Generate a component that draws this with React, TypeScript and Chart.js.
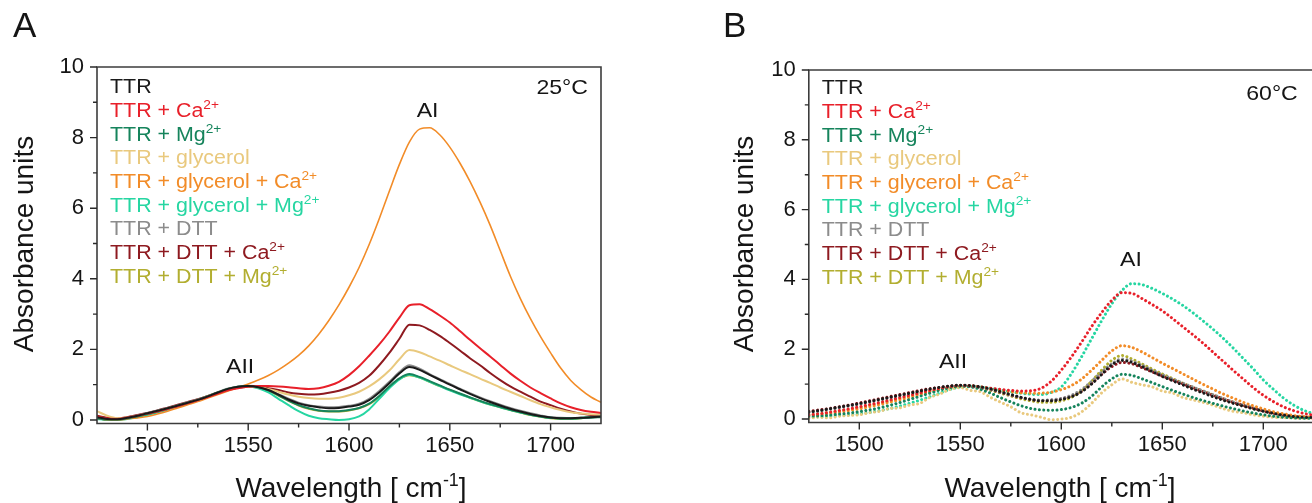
import React, { useEffect, useRef } from "react";
import { Chart, registerables } from "chart.js";

Chart.register(...registerables);

const FONT = '"Liberation Sans", Arial, Helvetica, sans-serif';

// ---------- data ----------
const wavenumbers = [
  1475, 1480, 1485, 1490, 1495, 1500, 1505, 1510, 1515, 1520, 1525, 1530, 1535, 1540, 1545, 1550, 1555,
  1560, 1565, 1570, 1575, 1580, 1585, 1590, 1595, 1600, 1605, 1610, 1615, 1620, 1625, 1630, 1635, 1640,
  1645, 1650, 1655, 1660, 1665, 1670, 1675, 1680, 1685, 1690, 1695, 1700, 1705, 1710, 1715, 1720, 1725,
];

const xMajorTicks = [1500, 1550, 1600, 1650, 1700];
const xMinorTicks = [1525, 1575, 1625, 1675];
const yMajorTicks = [0, 2, 4, 6, 8, 10];
const yMinorTicks = [1, 3, 5, 7, 9];

const seriesLabels: [string, string][] = [
  ["TTR", ""],
  ["TTR + Ca", "2+"],
  ["TTR + Mg", "2+"],
  ["TTR + glycerol", ""],
  ["TTR + glycerol + Ca", "2+"],
  ["TTR + glycerol + Mg", "2+"],
  ["TTR + DTT", ""],
  ["TTR + DTT + Ca", "2+"],
  ["TTR + DTT + Mg", "2+"],
];

const seriesColors = [
  "#1a1a1a",
  "#e8202a",
  "#16845c",
  "#e9c97e",
  "#f28c28",
  "#26d6a2",
  "#8c8c8c",
  "#8e1a20",
  "#b2ae30",
];

// Panel A (25 °C)
const a_TTR = [0.08,0.03,0.02,0.06,0.12,0.19,0.26,0.33,0.41,0.49,0.57,0.67,0.78,0.88,0.94,0.96,0.93,0.85,0.72,0.58,0.47,0.40,0.36,0.33,0.34,0.38,0.43,0.56,0.78,1.04,1.32,1.50,1.42,1.28,1.14,1.00,0.87,0.74,0.62,0.51,0.41,0.32,0.24,0.17,0.11,0.07,0.05,0.05,0.06,0.08,0.10];
const a_Ca = [0.10,0.04,0.03,0.07,0.12,0.18,0.24,0.31,0.39,0.47,0.56,0.65,0.75,0.84,0.90,0.94,0.96,0.96,0.95,0.93,0.90,0.88,0.90,0.97,1.08,1.27,1.52,1.82,2.14,2.50,2.90,3.25,3.28,3.14,2.96,2.76,2.52,2.27,2.03,1.80,1.56,1.32,1.11,0.92,0.76,0.61,0.47,0.36,0.28,0.23,0.20];
const a_Mg = [0.05,0.01,0.01,0.05,0.10,0.17,0.24,0.32,0.40,0.48,0.57,0.67,0.78,0.88,0.94,0.96,0.93,0.84,0.70,0.55,0.42,0.33,0.27,0.25,0.25,0.28,0.34,0.46,0.68,0.95,1.18,1.30,1.22,1.10,0.98,0.86,0.75,0.64,0.54,0.45,0.37,0.29,0.22,0.15,0.10,0.06,0.04,0.04,0.05,0.07,0.08];
const a_Gly = [0.25,0.12,0.05,0.07,0.12,0.18,0.25,0.32,0.40,0.48,0.56,0.66,0.76,0.86,0.92,0.95,0.93,0.88,0.80,0.72,0.66,0.62,0.60,0.60,0.63,0.70,0.80,0.95,1.15,1.40,1.72,1.98,1.92,1.80,1.68,1.55,1.42,1.30,1.17,1.05,0.92,0.80,0.68,0.56,0.45,0.36,0.28,0.22,0.18,0.16,0.15];
const a_GlyCa = [0.05,0.00,0.00,0.03,0.06,0.10,0.17,0.25,0.34,0.43,0.52,0.62,0.72,0.82,0.92,1.02,1.13,1.26,1.42,1.61,1.83,2.10,2.43,2.82,3.26,3.76,4.32,4.97,5.70,6.48,7.24,7.88,8.24,8.28,8.08,7.73,7.28,6.76,6.17,5.52,4.80,4.08,3.44,2.87,2.36,1.90,1.47,1.12,0.86,0.65,0.50];
const a_GlyMg = [0.03,0.00,0.00,0.03,0.08,0.14,0.21,0.29,0.38,0.47,0.56,0.66,0.77,0.87,0.93,0.95,0.90,0.78,0.60,0.42,0.25,0.12,0.05,0.02,0.00,0.02,0.10,0.30,0.60,0.90,1.15,1.28,1.20,1.08,0.96,0.84,0.73,0.63,0.53,0.44,0.36,0.28,0.21,0.15,0.10,0.06,0.04,0.04,0.06,0.08,0.10];
const a_DTT = [0.07,0.03,0.03,0.07,0.13,0.20,0.27,0.34,0.42,0.50,0.58,0.68,0.79,0.89,0.95,0.97,0.94,0.86,0.73,0.60,0.49,0.42,0.38,0.36,0.37,0.40,0.46,0.60,0.82,1.08,1.36,1.55,1.45,1.30,1.16,1.02,0.89,0.76,0.64,0.53,0.43,0.34,0.26,0.19,0.13,0.08,0.06,0.05,0.06,0.07,0.09];
const a_DTTCa = [0.12,0.06,0.04,0.08,0.14,0.20,0.27,0.35,0.43,0.51,0.59,0.68,0.78,0.86,0.91,0.94,0.95,0.90,0.85,0.78,0.74,0.72,0.73,0.77,0.83,0.92,1.05,1.25,1.55,1.90,2.30,2.70,2.68,2.55,2.38,2.18,1.97,1.75,1.55,1.33,1.13,0.95,0.80,0.66,0.52,0.42,0.32,0.24,0.18,0.14,0.12];
const a_DTTMg = [0.06,0.02,0.02,0.06,0.11,0.18,0.25,0.33,0.41,0.49,0.58,0.68,0.78,0.88,0.93,0.95,0.92,0.83,0.69,0.54,0.41,0.32,0.26,0.24,0.24,0.27,0.33,0.45,0.66,0.93,1.16,1.27,1.20,1.08,0.96,0.85,0.74,0.63,0.53,0.44,0.36,0.28,0.21,0.14,0.09,0.05,0.03,0.03,0.05,0.08,0.12];

// Panel B (60 °C)
const b_TTR = [0.20,0.24,0.29,0.34,0.39,0.44,0.50,0.56,0.62,0.68,0.74,0.80,0.86,0.91,0.95,0.97,0.96,0.92,0.86,0.78,0.70,0.62,0.56,0.52,0.52,0.56,0.64,0.78,1.00,1.28,1.55,1.68,1.62,1.50,1.36,1.22,1.10,0.98,0.86,0.75,0.64,0.54,0.45,0.37,0.29,0.22,0.16,0.11,0.07,0.05,0.04];
const b_Ca = [0.12,0.15,0.19,0.24,0.29,0.35,0.41,0.47,0.54,0.61,0.68,0.75,0.82,0.88,0.93,0.96,0.95,0.92,0.88,0.85,0.82,0.80,0.81,0.88,1.08,1.40,1.78,2.20,2.65,3.05,3.40,3.62,3.60,3.45,3.28,3.10,2.88,2.65,2.42,2.18,1.92,1.66,1.40,1.15,0.90,0.68,0.50,0.35,0.24,0.16,0.11];
const b_Mg = [0.08,0.09,0.11,0.14,0.17,0.21,0.26,0.32,0.39,0.47,0.56,0.65,0.74,0.83,0.90,0.94,0.92,0.85,0.74,0.61,0.49,0.38,0.30,0.26,0.25,0.27,0.33,0.45,0.65,0.92,1.15,1.28,1.25,1.15,1.04,0.93,0.82,0.72,0.62,0.53,0.45,0.37,0.30,0.23,0.17,0.12,0.08,0.05,0.03,0.02,0.02];
const b_Gly = [0.02,0.05,0.03,0.08,0.10,0.12,0.18,0.22,0.30,0.32,0.40,0.45,0.62,0.72,0.85,0.90,0.82,0.78,0.62,0.48,0.35,0.18,0.12,0.05,-0.02,0.00,0.05,0.20,0.45,0.75,0.98,1.15,1.05,0.98,0.92,0.80,0.75,0.62,0.55,0.48,0.40,0.30,0.22,0.18,0.12,0.08,0.05,0.04,0.03,0.02,0.02];
const b_GlyCa = [0.10,0.12,0.15,0.19,0.24,0.29,0.35,0.41,0.48,0.55,0.62,0.70,0.78,0.85,0.91,0.95,0.95,0.92,0.87,0.82,0.78,0.75,0.74,0.74,0.77,0.84,0.96,1.14,1.40,1.68,1.95,2.10,2.05,1.92,1.76,1.60,1.45,1.30,1.15,1.00,0.86,0.72,0.60,0.48,0.38,0.29,0.21,0.15,0.10,0.07,0.05];
const b_GlyMg = [0.05,0.06,0.08,0.10,0.12,0.15,0.19,0.24,0.30,0.37,0.45,0.54,0.64,0.75,0.85,0.92,0.94,0.92,0.88,0.83,0.78,0.74,0.71,0.70,0.76,0.92,1.30,1.78,2.30,2.82,3.30,3.68,3.88,3.85,3.74,3.60,3.44,3.26,3.05,2.82,2.58,2.32,2.04,1.74,1.44,1.12,0.85,0.60,0.40,0.25,0.15];
const b_DTT = [0.18,0.22,0.27,0.32,0.37,0.42,0.48,0.54,0.60,0.66,0.72,0.78,0.84,0.89,0.93,0.96,0.95,0.91,0.85,0.77,0.69,0.62,0.57,0.54,0.55,0.59,0.68,0.84,1.08,1.35,1.58,1.72,1.66,1.54,1.40,1.27,1.15,1.03,0.92,0.81,0.70,0.59,0.49,0.40,0.32,0.24,0.17,0.12,0.08,0.06,0.05];
const b_DTTCa = [0.22,0.26,0.30,0.35,0.40,0.46,0.52,0.58,0.64,0.70,0.76,0.82,0.87,0.91,0.94,0.96,0.94,0.90,0.84,0.76,0.68,0.61,0.56,0.53,0.54,0.58,0.66,0.80,1.02,1.28,1.50,1.62,1.58,1.47,1.35,1.23,1.12,1.01,0.90,0.79,0.68,0.58,0.48,0.39,0.31,0.23,0.16,0.11,0.07,0.05,0.04];
const b_DTTMg = [0.12,0.15,0.19,0.23,0.28,0.33,0.39,0.45,0.52,0.59,0.66,0.73,0.80,0.86,0.91,0.94,0.93,0.89,0.82,0.74,0.66,0.58,0.52,0.48,0.48,0.52,0.62,0.80,1.08,1.40,1.68,1.82,1.72,1.58,1.43,1.29,1.16,1.03,0.91,0.80,0.69,0.58,0.48,0.39,0.31,0.23,0.16,0.11,0.07,0.05,0.04];

const panelASeries = [a_TTR, a_Ca, a_Mg, a_Gly, a_GlyCa, a_GlyMg, a_DTT, a_DTTCa, a_DTTMg];
const panelBSeries = [b_TTR, b_Ca, b_Mg, b_Gly, b_GlyCa, b_GlyMg, b_DTT, b_DTTCa, b_DTTMg];

// ---------- layout ----------
type PanelCfg = {
  left: number;
  plotLeft: number;
  plotRight: number;
  plotTop: number;
  plotBottom: number;
  letter: string;
  letterX: number;
  yTitleX: number;
  xTitleCenter: number;
  temp: string;
  tempInset: number;
  tempDy: number;
  legendInset: number;
  legendDy: number;
  ai: [number, number];
  aii: [number, number];
  dotted: boolean;
  series: number[][];
};

const CW = 656;
const CH = 503;

const panelA: PanelCfg = {
  left: 0,
  plotLeft: 97,
  plotRight: 601,
  plotTop: 67,
  plotBottom: 423.5,
  letter: "A",
  letterX: 13,
  yTitleX: 33,
  xTitleCenter: 351,
  temp: "25°C",
  tempInset: 13,
  tempDy: 19,
  legendInset: 13,
  legendDy: 19,
  ai: [1639, 8.81],
  aii: [1546, 1.53],
  dotted: false,
  series: panelASeries,
};

const panelB: PanelCfg = {
  left: 711,
  plotLeft: 97.8,
  plotRight: 602.8,
  plotTop: 70,
  plotBottom: 422.5,
  letter: "B",
  letterX: 12,
  yTitleX: 42,
  xTitleCenter: 349,
  temp: "60°C",
  tempInset: 16,
  tempDy: 22,
  legendInset: 13,
  legendDy: 17,
  ai: [1634.5, 4.61],
  aii: [1546.4, 1.69],
  dotted: true,
  series: panelBSeries,
};

// ---------- text helpers ----------
type Part = { t: string; sup?: boolean };

function drawRich(
  ctx: CanvasRenderingContext2D,
  parts: Part[],
  x: number,
  baseline: number,
  size: number,
  color: string,
  align: "left" | "right" | "center",
  stretch = 1
) {
  const supSize = size * 0.64;
  let w = 0;
  for (const p of parts) {
    ctx.font = `${p.sup ? supSize : size}px ${FONT}`;
    w += ctx.measureText(p.t).width;
  }
  const total = w * stretch;
  const sx = align === "left" ? x : align === "right" ? x - total : x - total / 2;
  ctx.save();
  ctx.translate(sx, baseline);
  ctx.scale(stretch, 1);
  ctx.fillStyle = color;
  ctx.textAlign = "left";
  ctx.textBaseline = "alphabetic";
  let cx = 0;
  for (const p of parts) {
    ctx.font = `${p.sup ? supSize : size}px ${FONT}`;
    ctx.fillText(p.t, cx, p.sup ? -size * 0.4 : 0);
    cx += ctx.measureText(p.t).width;
  }
  ctx.restore();
}

function makeDecor(cfg: PanelCfg) {
  return {
    id: "decor" + cfg.letter,
    afterDatasetsDraw(chart: any) {
      const { ctx, chartArea: a, scales } = chart;
      const xs = scales.x;
      const ys = scales.y;
      ctx.save();
      ctx.strokeStyle = "#3c3c3c";
      ctx.lineWidth = 1.6;
      ctx.beginPath();
      ctx.rect(a.left, a.top, a.right - a.left, a.bottom - a.top);
      ctx.stroke();
      ctx.strokeStyle = "#2a2a2a";
      ctx.lineWidth = 1.4;
      ctx.beginPath();
      for (const v of yMajorTicks) {
        const py = ys.getPixelForValue(v);
        ctx.moveTo(a.left, py);
        ctx.lineTo(a.left - 7, py);
      }
      for (const v of yMinorTicks) {
        const py = ys.getPixelForValue(v);
        ctx.moveTo(a.left, py);
        ctx.lineTo(a.left - 4, py);
      }
      for (const v of xMajorTicks) {
        const px = xs.getPixelForValue(v);
        ctx.moveTo(px, a.bottom);
        ctx.lineTo(px, a.bottom + 7);
      }
      for (const v of xMinorTicks) {
        const px = xs.getPixelForValue(v);
        ctx.moveTo(px, a.bottom);
        ctx.lineTo(px, a.bottom + 4);
      }
      ctx.stroke();
      ctx.restore();
    },
    afterDraw(chart: any) {
      const { ctx, chartArea: a, scales } = chart;
      const xs = scales.x;
      const ys = scales.y;
      const ink = "#151515";
      // panel letter
      drawRich(ctx, [{ t: cfg.letter }], cfg.letterX, 37, 35, ink, "left");
      // y title
      ctx.save();
      ctx.translate(cfg.yTitleX, 244);
      ctx.rotate(-Math.PI / 2);
      ctx.font = `28px ${FONT}`;
      ctx.fillStyle = ink;
      ctx.textAlign = "center";
      ctx.textBaseline = "alphabetic";
      ctx.fillText("Absorbance units", 0, 0);
      ctx.restore();
      // x title
      drawRich(
        ctx,
        [{ t: "Wavelength [ cm" }, { t: "-1", sup: true }, { t: "]" }],
        cfg.xTitleCenter,
        497,
        28,
        ink,
        "center"
      );
      // legend
      seriesLabels.forEach(([base, sup], i) => {
        const cy = a.top + cfg.legendDy + i * 23.7;
        const parts: Part[] = [{ t: base }];
        if (sup) parts.push({ t: sup, sup: true });
        drawRich(ctx, parts, a.left + cfg.legendInset, cy + 7.1, 20, seriesColors[i], "left", 1.07);
      });
      // temperature
      drawRich(ctx, [{ t: cfg.temp }], a.right - cfg.tempInset, a.top + cfg.tempDy + 7.5, 21, ink, "right", 1.1);
      // band labels
      drawRich(ctx, [{ t: "AI" }], xs.getPixelForValue(cfg.ai[0]), ys.getPixelForValue(cfg.ai[1]) + 7.5, 21, ink, "center", 1.1);
      drawRich(ctx, [{ t: "AII" }], xs.getPixelForValue(cfg.aii[0]), ys.getPixelForValue(cfg.aii[1]) + 7.5, 21, ink, "center", 1.1);
    },
  };
}

function Panel({ cfg }: { cfg: PanelCfg }) {
  const ref = useRef<HTMLCanvasElement | null>(null);
  useEffect(() => {
    if (!ref.current) return;
    const datasets = cfg.series.map((vals, i) => ({
      label: seriesLabels[i][0] + seriesLabels[i][1],
      data: wavenumbers.map((w, k) => ({ x: w, y: vals[k] })),
      borderColor: seriesColors[i],
      backgroundColor: seriesColors[i],
      borderWidth: cfg.dotted ? 3 : i === 4 ? 1.6 : 2,
      borderDash: cfg.dotted ? [0.01, 4.4] : [],
      borderCapStyle: cfg.dotted ? ("round" as const) : ("butt" as const),
      cubicInterpolationMode: "monotone" as const,
      pointRadius: 0,
      fill: false,
    }));
    const chart = new Chart(ref.current, {
      type: "line",
      data: { datasets },
      options: {
        animation: false,
        responsive: false,
        devicePixelRatio: 1,
        layout: { padding: { left: 0, top: cfg.plotTop, right: CW - cfg.plotRight, bottom: 0 } },
        plugins: { legend: { display: false }, tooltip: { enabled: false } },
        scales: {
          x: {
            type: "linear",
            min: 1475,
            max: 1725,
            grid: { display: false, drawTicks: false },
            border: { display: false },
            afterBuildTicks: (s: any) => {
              s.ticks = xMajorTicks.map((v) => ({ value: v }));
            },
            afterFit: (s: any) => {
              s.height = CH - cfg.plotBottom;
            },
            ticks: {
              color: "#151515",
              font: { family: FONT, size: 22 },
              padding: 9,
              maxRotation: 0,
              autoSkip: false,
              callback: (v: any) => String(v),
            },
          },
          y: {
            type: "linear",
            min: -0.1,
            max: 10,
            grid: { display: false, drawTicks: false },
            border: { display: false },
            afterBuildTicks: (s: any) => {
              s.ticks = yMajorTicks.map((v) => ({ value: v }));
            },
            afterFit: (s: any) => {
              s.width = cfg.plotLeft;
            },
            ticks: {
              color: "#151515",
              font: { family: FONT, size: 22 },
              padding: 13,
              callback: (v: any) => String(v),
            },
          },
        },
      },
      plugins: [makeDecor(cfg)],
    });
    return () => chart.destroy();
  }, [cfg]);
  return (
    <div style={{ position: "absolute", left: cfg.left, top: 0, width: CW, height: CH }}>
      <canvas ref={ref} width={CW} height={CH} style={{ width: CW, height: CH, display: "block" }} />
    </div>
  );
}

export default function App() {
  return (
    <div
      style={{
        position: "fixed",
        left: 0,
        top: 0,
        width: 1312,
        height: 503,
        overflow: "hidden",
        background: "#ffffff",
      }}
    >
      <Panel cfg={panelA} />
      <Panel cfg={panelB} />
    </div>
  );
}
